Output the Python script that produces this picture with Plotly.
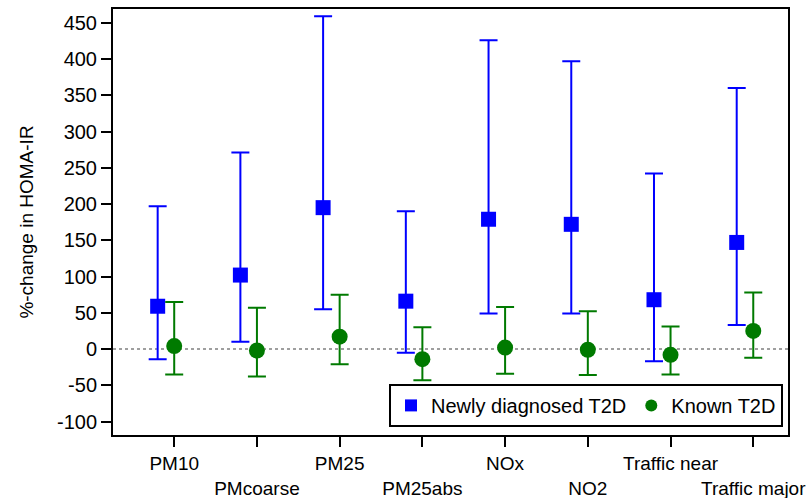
import numpy as np
import plotly.graph_objects as go

categories = ["PM10", "PMcoarse", "PM25", "PM25abs", "NOx", "NO2", "Traffic near", "Traffic major"]

new_est = [59, 102, 195, 66, 179, 172, 68, 147]
new_low = [-14, 10, 55, -5, 49, 49, -17, 33]
new_high = [197, 271, 459, 190, 426, 397, 242, 360]

known_est = [4, -2, 17, -14, 2, -1, -8, 25]
known_low = [-35, -38, -21, -43, -34, -36, -35, -12]
known_high = [65, 57, 75, 30, 58, 52, 31, 78]

y_ticks = [-100, -50, 0, 50, 100, 150, 200, 250, 300, 350, 400, 450]

idx = np.arange(len(categories))
offset_new = -0.2

tick_text = [c if i % 2 == 0 else "<br>" + c for i, c in enumerate(categories)]

FONT = "Arial, Liberation Sans, sans-serif"
BLUE = "#0000FF"
GREEN = "#007A00"

fig = go.Figure()
fig.add_trace(go.Scatter(
    x=idx + offset_new, y=new_est, mode="markers", name="Newly diagnosed T2D",
    marker=dict(symbol="square", size=15, color=BLUE),
    error_y=dict(type="data", symmetric=False,
                 array=[h - e for h, e in zip(new_high, new_est)],
                 arrayminus=[e - l for e, l in zip(new_est, new_low)],
                 color=BLUE, thickness=2, width=9),
))
fig.add_trace(go.Scatter(
    x=idx, y=known_est, mode="markers", name="Known T2D",
    marker=dict(symbol="circle", size=16, color=GREEN),
    error_y=dict(type="data", symmetric=False,
                 array=[h - e for h, e in zip(known_high, known_est)],
                 arrayminus=[e - l for e, l in zip(known_est, known_low)],
                 color=GREEN, thickness=2, width=9),
))

fig.add_hline(y=0, line=dict(color="#808080", width=1.5, dash="dot"), layer="below")

fig.update_layout(
    width=810, height=498,
    margin=dict(l=113, r=22, t=9, b=63, autoexpand=False),
    paper_bgcolor="white", plot_bgcolor="white",
    font=dict(family=FONT, size=20, color="black"),
    showlegend=True,
    legend=dict(orientation="h", x=0.9926, xanchor="right", y=0.019, yanchor="bottom",
                bordercolor="black", borderwidth=2, bgcolor="white",
                font=dict(size=20), itemsizing="constant", itemwidth=30),
    xaxis=dict(range=[-0.74, 7.42], tickvals=idx, ticktext=tick_text, tickangle=0,
               automargin=False,
               showgrid=False, zeroline=False, showline=True, linecolor="black",
               linewidth=2, mirror=True, ticks="outside", ticklen=10, tickwidth=2,
               tickcolor="black", tickfont=dict(size=19)),
    yaxis=dict(range=[-118.6, 469], tickvals=y_ticks, ticktext=[str(v) for v in y_ticks],
               automargin=False,
               showgrid=False, zeroline=False, showline=True, linecolor="black",
               linewidth=2, mirror=True, ticks="outside", ticklen=10, tickwidth=2,
               tickcolor="black", tickfont=dict(size=20),
               title=dict(text="%-change in HOMA-IR", font=dict(size=19), standoff=18)),
)

fig.write_html("out.html", config={"displayModeBar": False},
               post_script="document.body.style.margin='0';")
